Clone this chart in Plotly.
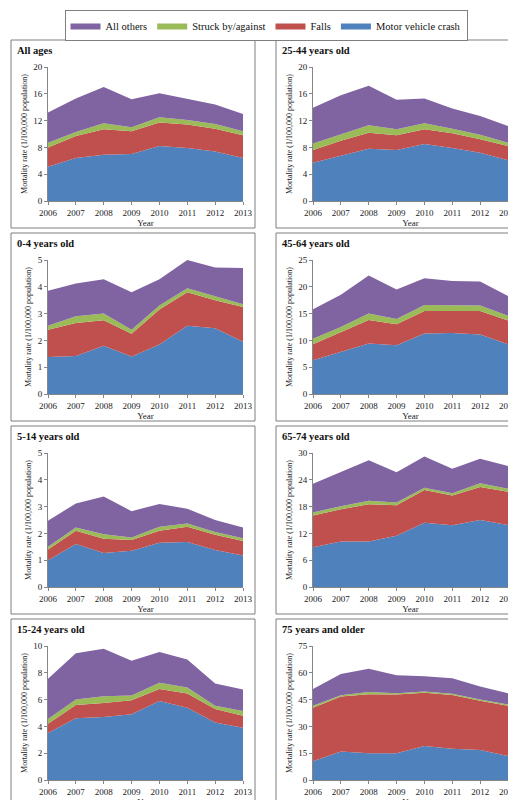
import plotly.graph_objects as go

years = [2006, 2007, 2008, 2009, 2010, 2011, 2012, 2013]
series_names = ["Motor vehicle crash", "Falls", "Struck by/against", "All others"]
colors = ["#4F81BD", "#C0504D", "#9BBB59", "#8064A2"]

# cumulative tops of each stacked layer (motor, +falls, +struck, +others)
all_ages = [[5.1,6.4,6.9,7.0,8.2,7.9,7.4,6.4],[8.0,9.7,10.7,10.4,11.7,11.4,10.8,9.8],
            [8.7,10.3,11.6,11.0,12.5,12.1,11.5,10.4],[13.2,15.3,17.0,15.2,16.1,15.3,14.4,13.0]]
age_25_44 = [[5.7,6.8,7.8,7.6,8.5,7.9,7.2,6.1],[7.6,9.0,10.2,9.8,10.7,10.1,9.2,8.2],
             [8.6,10.0,11.3,10.7,11.6,10.8,9.9,8.7],[13.9,15.8,17.2,15.1,15.3,13.8,12.7,11.2]]
age_0_4 = [[1.38,1.42,1.8,1.4,1.85,2.55,2.45,1.95],[2.4,2.65,2.75,2.25,3.15,3.8,3.5,3.25],
           [2.55,2.9,3.0,2.4,3.3,3.95,3.65,3.35],[3.85,4.12,4.28,3.8,4.28,5.0,4.72,4.7]]
age_45_64 = [[6.3,7.9,9.4,9.1,11.3,11.4,11.1,9.3],[9.3,11.6,13.8,13.0,15.5,15.5,15.5,13.7],
             [10.3,12.5,15.0,14.0,16.6,16.5,16.5,14.6],[15.8,18.5,22.1,19.5,21.6,21.1,21.0,18.3]]
age_5_14 = [[1.0,1.6,1.27,1.35,1.65,1.68,1.38,1.18],[1.4,2.1,1.8,1.75,2.1,2.25,1.95,1.72],
            [1.5,2.22,1.97,1.85,2.25,2.37,2.05,1.82],[2.47,3.12,3.38,2.83,3.1,2.92,2.5,2.22]]
age_65_74 = [[8.9,10.2,10.2,11.5,14.4,13.8,15.0,13.9],[16.0,17.4,18.5,18.3,21.7,20.5,22.4,21.3],
             [16.7,18.1,19.3,18.9,22.2,21.0,23.2,22.0],[23.1,25.8,28.4,25.7,29.2,26.5,28.7,27.1]]
age_15_24 = [[3.5,4.6,4.7,4.9,5.9,5.4,4.3,3.9],[4.2,5.6,5.75,5.95,6.8,6.45,5.3,4.8],
             [4.55,6.0,6.25,6.3,7.25,6.9,5.55,5.15],[7.55,9.45,9.8,8.9,9.55,9.0,7.2,6.75]]
age_75_up = [[10.5,16.0,15.0,15.0,19.0,17.5,16.8,13.5],[40.5,46.8,48.0,47.8,48.8,47.6,44.3,41.5],
             [41.5,47.5,49.3,48.6,49.6,48.3,45.0,42.2],[51.0,59.3,62.2,58.6,58.0,57.0,52.3,48.5]]

panels = [("All ages", all_ages, 20, 4), ("25-44 years old", age_25_44, 20, 4),
          ("0-4 years old", age_0_4, 5, 1), ("45-64 years old", age_45_64, 25, 5),
          ("5-14 years old", age_5_14, 5, 1), ("65-74 years old", age_65_74, 30, 6),
          ("15-24 years old", age_15_24, 10, 2), ("75 years and older", age_75_up, 75, 15)]

W, H = 516, 800
FONT = "Liberation Serif"
fig = go.Figure()
shapes, annotations = [], []

for i, (title, data, ymax, dt) in enumerate(panels):
    c, r = i % 2, i // 2
    bl = 3 + c * 265
    bt = 32 + r * 193
    bw, bh = 244, 188
    x0, x1 = bl + 37, bl + 232
    y0, y1 = bt + 27, bt + 161
    n = i + 1
    xa = "x" if n == 1 else f"x{n}"
    ya = "y" if n == 1 else f"y{n}"
    for k in range(4):
        fig.add_trace(go.Scatter(
            x=years, y=data[k], mode="lines", line=dict(width=0, color=colors[k]),
            fill="tozeroy" if k == 0 else "tonexty", fillcolor=colors[k],
            name=series_names[k], showlegend=(i == 0),
            xaxis=xa, yaxis=ya, hoverinfo="skip"))
    fig.layout[f"xaxis{'' if n == 1 else n}"] = dict(
        domain=[x0 / W, x1 / W], anchor=ya, range=[2006, 2013], tickvals=years,
        showgrid=False, showline=True, linecolor="#868686", ticks="outside", ticklen=3,
        tickcolor="#868686", tickfont=dict(size=9, family=FONT, color="#222"),
        title=dict(text="Year", font=dict(size=9, family=FONT, color="#222"), standoff=0),
        zeroline=False, automargin=False)
    fig.layout[f"yaxis{'' if n == 1 else n}"] = dict(
        domain=[1 - y1 / H, 1 - y0 / H], anchor=xa, range=[0, ymax], dtick=dt,
        showgrid=False, showline=True, linecolor="#868686", ticks="outside", ticklen=3,
        tickcolor="#868686", tickfont=dict(size=9, family=FONT, color="#222"),
        title=dict(text="Mortality rate (1/100,000 population)",
                   font=dict(size=8, family=FONT, color="#222"), standoff=4),
        zeroline=False, automargin=False)
    shapes.append(dict(type="rect", xref="paper", yref="paper",
                       x0=bl / W, x1=(bl + bw) / W, y0=1 - (bt + bh) / H, y1=1 - bt / H,
                       line=dict(color="#7f7f7f", width=1)))
    annotations.append(dict(text=f"<b>{title}</b>", xref="paper", yref="paper",
                            x=(bl + 4) / W, y=1 - (bt + 3) / H, xanchor="left", yanchor="top",
                            showarrow=False, font=dict(size=10.5, family=FONT, color="#111")))

fig.update_layout(
    width=W, height=H, margin=dict(l=0, r=0, t=0, b=0, autoexpand=False),
    paper_bgcolor="white", plot_bgcolor="white",
    shapes=shapes, annotations=annotations,
    legend=dict(orientation="h", x=0.5, xanchor="center", y=1 - 2 / H, yanchor="top",
                traceorder="reversed",
                font=dict(size=10.5, family=FONT, color="#111"),
                bordercolor="#7f7f7f", borderwidth=1, tracegroupgap=0),
)
fig.write_html("out.html")
